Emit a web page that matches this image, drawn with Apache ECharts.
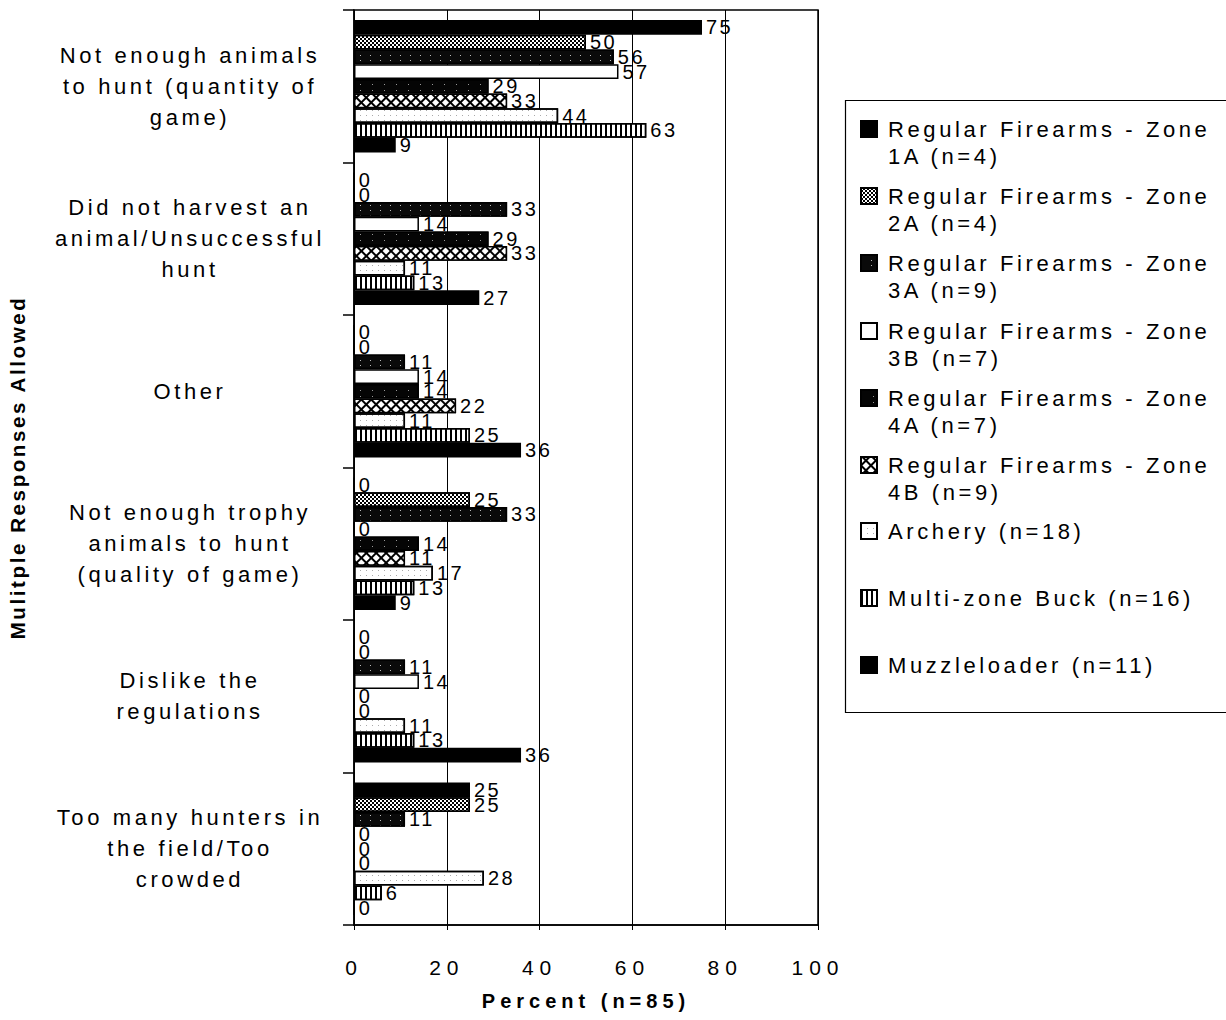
<!DOCTYPE html>
<html>
<head>
<meta charset="utf-8">
<script src="https://cdn.jsdelivr.net/npm/echarts@6/dist/echarts.min.js"></script>
<style>
  html, body { margin: 0; padding: 0; background: #fff; }
  #chart { width: 1226px; height: 1020px; }
  #chart text { letter-spacing: 3.6px; }
  #chart text[style*="21px"] { letter-spacing: 6px; }
  #chart text[style*="20px"] { letter-spacing: 2.5px; }
  #chart text[style*="bold"][style*="20px"] { letter-spacing: 5px; }
  #chart text[style*="20.5px"] { letter-spacing: 2.6px; }
</style>
</head>
<body>
<div id="chart"></div>
<script>
// ---- data ----
const categories = [
  'Not enough animals to hunt (quantity of game)',
  'Did not harvest an animal/Unsuccessful hunt',
  'Other',
  'Not enough trophy animals to hunt (quality of game)',
  'Dislike the regulations',
  'Too many hunters in the field/Too crowded'
];
const categoryLabels = [
  'Not enough animals\nto hunt (quantity of\ngame)',
  'Did not harvest an\nanimal/Unsuccessful\nhunt',
  'Other',
  'Not enough trophy\nanimals to hunt\n(quality of game)',
  'Dislike the\nregulations',
  'Too many hunters in\nthe field/Too\ncrowded'
];
const seriesNames = [
  'Regular Firearms - Zone 1A (n=4)',
  'Regular Firearms - Zone 2A (n=4)',
  'Regular Firearms - Zone 3A (n=9)',
  'Regular Firearms - Zone 3B (n=7)',
  'Regular Firearms - Zone 4A (n=7)',
  'Regular Firearms - Zone 4B (n=9)',
  'Archery (n=18)',
  'Multi-zone Buck (n=16)',
  'Muzzleloader (n=11)'
];
const zone1A    = [75, 0, 0, 0, 0, 25];
const zone2A    = [50, 0, 0, 25, 0, 25];
const zone3A    = [56, 33, 11, 33, 11, 11];
const zone3B    = [57, 14, 14, 0, 14, 0];
const zone4A    = [29, 29, 14, 14, 0, 0];
const zone4B    = [33, 33, 22, 11, 0, 0];
const archery   = [44, 11, 11, 17, 11, 28];
const multiZone = [63, 13, 25, 13, 13, 6];
const muzzle    = [9, 27, 36, 9, 36, 0];
const seriesValues = [zone1A, zone2A, zone3A, zone3B, zone4A, zone4B, archery, multiZone, muzzle];
const xTicks = { min: 0, max: 100, interval: 20 };

// ---- styles ----
const FONT = '"Liberation Sans", Arial, sans-serif';
const fills = [
  { color: '#000' },
  { color: '#fff', decal: { symbol: 'rect', symbolSize: 1, dashArrayX: [[2, 2], [0, 2, 2, 0]], dashArrayY: [2, 0], color: '#000' } },
  { color: '#0a0a0a', decal: { symbol: 'rect', symbolSize: 1, dashArrayX: [1, 9], dashArrayY: [1, 4], color: '#bbb' } },
  { color: '#fff' },
  { color: '#050505', decal: { symbol: 'rect', symbolSize: 1, dashArrayX: [1, 11], dashArrayY: [1, 5], color: '#999' } },
  { color: '#000', decal: { symbol: 'rect', symbolSize: 1, dashArrayX: [4.5, 1.6], dashArrayY: [4.5, 1.6], rotation: Math.PI / 4, color: '#fff' } },
  { color: '#fff', decal: { symbol: 'rect', symbolSize: 1, dashArrayX: [1, 5], dashArrayY: [1, 4], color: '#aaa' } },
  { color: '#fff', decal: { symbol: 'rect', symbolSize: 1, dashArrayX: [2, 3], dashArrayY: [1, 0], color: '#000' } },
  { color: '#000' }
];
const legendLine1Y = [129, 196, 263, 331, 398, 465, 531, 598, 665];
const LH = 27;

const series = seriesNames.map((name, i) => ({
  name: name,
  type: 'bar',
  data: seriesValues[i],
  barGap: '0%',
  barCategoryGap: '13%',
  itemStyle: Object.assign({ borderColor: '#000', borderWidth: 1.5 }, fills[i]),
  label: {
    show: true, position: 'right', distance: 4,
    fontSize: 20, color: '#000', fontFamily: FONT
  },
  emphasis: { disabled: true },
  animation: false
}));

// Two-line legend entries get an empty first line so that the icon
// (centred on the text block) lines up with the first visible line.
const legends = seriesNames.map((name, i) => {
  const twoLine = name.indexOf('Zone ') >= 0;
  const top = twoLine ? legendLine1Y[i] - 1.5 * LH : legendLine1Y[i] - LH / 2;
  return {
    data: [{ name: name, icon: 'rect' }],
    left: 860,
    top: top,
    padding: 0,
    orient: 'vertical',
    itemWidth: 16,
    itemHeight: 16,
    selectedMode: false,
    formatter: n => twoLine ? ' \n' + n.replace('Zone ', 'Zone\n') : n,
    textStyle: {
      fontSize: 22, color: '#000', fontFamily: FONT, lineHeight: LH,
      padding: [0, 0, 0, 6]
    }
  };
});

const chart = echarts.init(document.getElementById('chart'), null, { renderer: 'svg' });
chart.setOption({
  animation: false,
  backgroundColor: '#fff',
  grid: {
    left: 354, right: 408, top: 10, bottom: 95,
    show: true, borderColor: '#000', borderWidth: 1.5, backgroundColor: 'transparent'
  },
  legend: legends,
  xAxis: {
    type: 'value',
    min: xTicks.min, max: xTicks.max, interval: xTicks.interval,
    name: 'Percent (n=85)',
    nameLocation: 'middle',
    nameGap: 66,
    nameTextStyle: { fontSize: 20, fontWeight: 'bold', color: '#000', fontFamily: FONT },
    axisLine: { show: true, lineStyle: { color: '#000', width: 1.5 } },
    axisTick: { show: true, length: 5, lineStyle: { color: '#000' } },
    axisLabel: { fontSize: 21, color: '#000', margin: 32, fontFamily: FONT },
    splitLine: { show: true, lineStyle: { color: '#000', width: 1 } }
  },
  yAxis: {
    type: 'category',
    inverse: true,
    data: categories,
    name: 'Mulitple Responses Allowed',
    nameLocation: 'middle',
    nameGap: 326,
    nameTextStyle: { fontSize: 20.5, fontWeight: 'bold', color: '#000', fontFamily: FONT },
    axisLine: { show: true, lineStyle: { color: '#000', width: 1.5 } },
    axisTick: { show: true, length: 11, lineStyle: { color: '#000', width: 1.5 } },
    axisLabel: {
      fontSize: 22, color: '#000', fontFamily: FONT, lineHeight: 31,
      align: 'center', margin: 164,
      formatter: (v, idx) => categoryLabels[idx]
    },
    splitLine: { show: false }
  },
  graphic: [{
    type: 'rect',
    shape: { x: 845.5, y: 100.5, width: 400, height: 612 },
    style: { fill: 'none', stroke: '#000', lineWidth: 1.2 },
    silent: true
  }],
  series: series
});
</script>
</body>
</html>
